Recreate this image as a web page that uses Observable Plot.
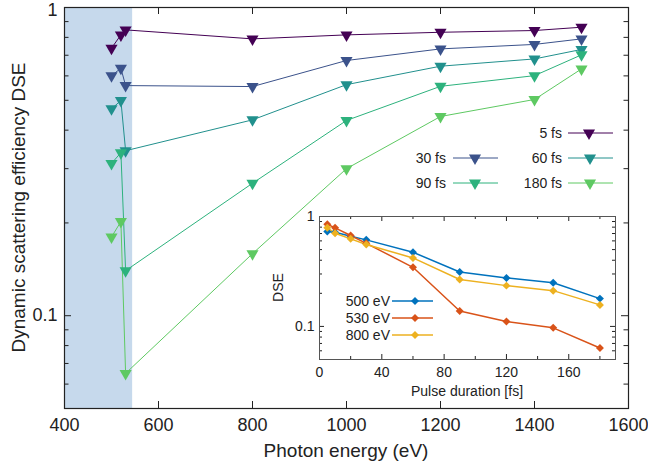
<!DOCTYPE html>
<html><head><meta charset="utf-8">
<script src="https://cdn.jsdelivr.net/npm/d3@7"></script>
<script src="https://cdn.jsdelivr.net/npm/@observablehq/plot@0.6"></script>
<style>
body{margin:0;background:#fff;}
#wrap{position:relative;width:648px;height:463px;font-family:"Liberation Sans",Arial,sans-serif;}
#inset{position:absolute;left:270px;top:205px;}
</style></head><body><div id="wrap"><div id="main"></div><div id="inset"></div></div>
<script>
// ---- Main chart data ----
const energies = [500, 520, 530, 800, 1000, 1200, 1400, 1500];
const seriesLabels = ["5 fs", "30 fs", "60 fs", "90 fs", "180 fs"];
const seriesColors = ["#440154", "#3b528b", "#21908d", "#2db27d", "#5ec962"];
const dse5   = [0.738, 0.815, 0.846, 0.791, 0.815, 0.831, 0.842, 0.863];
const dse30  = [0.601, 0.635, 0.558, 0.554, 0.673, 0.734, 0.759, 0.791];
const dse60  = [0.469, 0.499, 0.343, 0.432, 0.562, 0.645, 0.681, 0.731];
const dse90  = [0.312, 0.338, 0.140, 0.269, 0.430, 0.555, 0.601, 0.702];
const dse180 = [0.180, 0.202, 0.065, 0.159, 0.300, 0.443, 0.503, 0.632];
const shadeRange = [400, 545];
const xTicks = [400, 600, 800, 1000, 1200, 1400, 1600];
const yTicksMajor = [0.1, 1];
const yTicksMinor = [0.05, 0.06, 0.07, 0.08, 0.09, 0.2, 0.3, 0.4, 0.5, 0.6, 0.7, 0.8, 0.9];

// ---- Inset data ----
const durations = [5, 10, 20, 30, 60, 90, 120, 150, 180];
const insetLabels = ["500 eV", "530 eV", "800 eV"];
const insetColors = ["#0072bd", "#d95319", "#edb120"];
const dse500eV = [0.73, 0.72, 0.661, 0.613, 0.473, 0.313, 0.276, 0.250, 0.179];
const dse530eV = [0.85, 0.789, 0.671, 0.57, 0.345, 0.138, 0.111, 0.097, 0.0636];
const dse800eV = [0.79, 0.705, 0.626, 0.556, 0.42, 0.267, 0.235, 0.2115, 0.157];
const insetXTicksMajor = [0, 40, 80, 120, 160];
const insetXTicksMinor = [20, 60, 100, 140, 180];

// ---- Build tables ----
const mainValues = [dse5, dse30, dse60, dse90, dse180];
const mainRows = seriesLabels.flatMap((s, k) => energies.map((e, i) => ({series: s, energy: e, dse: mainValues[k][i]})));
const insetValues = [dse500eV, dse530eV, dse800eV];
const insetRows = insetLabels.flatMap((s, k) => durations.map((d, i) => ({series: s, dur: d, dse: insetValues[k][i]})));

const FONT = "Liberation Sans, Arial, Helvetica, sans-serif";
const W = 648, H = 463;
const M = {left: 64, right: 20, top: 7, bottom: 55};
const FW = W - M.left - M.right, FH = H - M.top - M.bottom;
const ink = "#222";
const fmt = d => String(d);

const main = Plot.plot({
  width: W, height: H,
  marginLeft: M.left, marginRight: M.right, marginTop: M.top, marginBottom: M.bottom,
  style: {fontFamily: FONT, fontSize: "18px", color: ink, background: "white", overflow: "visible"},
  x: {domain: [400, 1600], label: null},
  y: {type: "log", domain: [0.05, 1], label: null},
  color: {domain: seriesLabels, range: seriesColors},
  marks: [
    Plot.rect([shadeRange], {x1: d => d[0], x2: d => d[1], y1: 0.05, y2: 1, fill: "#c6d9ec"}),
    Plot.axisX(xTicks, {tickSize: 0, tickPadding: 10, tickFormat: fmt, label: null}),
    Plot.axisY([yTicksMajor[0]], {tickSize: 0, tickPadding: 7, tickFormat: fmt, label: null}),
    Plot.axisY([yTicksMajor[1]], {tickSize: 0, tickPadding: 7, tickFormat: fmt, label: null, dy: 3}),
    Plot.ruleY(yTicksMajor, {insetRight: FW - 7, stroke: ink}),
    Plot.ruleY(yTicksMajor, {insetLeft: FW - 7, stroke: ink}),
    Plot.ruleY(yTicksMinor, {insetRight: FW - 4.5, stroke: ink}),
    Plot.ruleY(yTicksMinor, {insetLeft: FW - 4.5, stroke: ink}),
    Plot.ruleX(xTicks, {insetTop: FH - 7, stroke: ink}),
    Plot.ruleX(xTicks, {insetBottom: FH - 7, stroke: ink}),
    Plot.line(mainRows, {x: "energy", y: "dse", z: "series", stroke: "series", strokeWidth: 1}),
    Plot.dot(mainRows, {x: "energy", y: "dse", fill: "series", symbol: "triangle", r: 4.5, rotate: 180}),
    Plot.frame({stroke: ink, strokeWidth: 1.2})
  ]
});
document.getElementById("main").appendChild(main);

// Main axis labels and legend
{
  const svg = d3.select(main);
  svg.append("text").attr("x", M.left + FW / 2).attr("y", 457).attr("text-anchor", "middle")
    .attr("font-size", 19).attr("font-family", FONT).attr("fill", ink).text("Photon energy (eV)");
  svg.append("text").attr("transform", `translate(25,${M.top + FH / 2}) rotate(-90)`).attr("text-anchor", "middle")
    .attr("font-size", 19).attr("font-family", FONT).attr("fill", ink).text("Dynamic scattering efficiency DSE");
  const legendPos = [
    {tx: 562, y: 133, x1: 568, x2: 613, mx: 589},
    {tx: 446, y: 158, x1: 453, x2: 498, mx: 475},
    {tx: 562, y: 158, x1: 568, x2: 613, mx: 590},
    {tx: 446, y: 183, x1: 453, x2: 498, mx: 475},
    {tx: 562, y: 183, x1: 568, x2: 613, mx: 590}
  ];
  const tri = d3.symbol(d3.symbolTriangle, Math.PI * 4.5 * 4.5)();
  seriesLabels.forEach((lab, k) => {
    const p = legendPos[k];
    const g = svg.append("g");
    g.append("text").attr("x", p.tx).attr("y", p.y + 5).attr("text-anchor", "end")
      .attr("font-size", 14).attr("font-family", FONT).attr("fill", ink).text(lab);
    g.append("line").attr("x1", p.x1).attr("x2", p.x2).attr("y1", p.y).attr("y2", p.y)
      .attr("stroke", seriesColors[k]).attr("stroke-width", 1);
    g.append("path").attr("d", tri).attr("transform", `translate(${p.mx},${p.y}) rotate(180)`)
      .attr("fill", seriesColors[k]);
  });
}

// ---- Inset ----
const IW = 360, IH = 200;
const IM = {left: 49, right: 15, top: 11, bottom: 46};
const IFW = IW - IM.left - IM.right, IFH = IH - IM.top - IM.bottom;
const inset = Plot.plot({
  width: IW, height: IH,
  marginLeft: IM.left, marginRight: IM.right, marginTop: IM.top, marginBottom: IM.bottom,
  style: {fontFamily: FONT, fontSize: "14px", color: ink, background: "transparent", overflow: "visible"},
  x: {domain: [0, 190], ticks: insetXTicksMajor, tickSize: 0, tickPadding: 8, label: null, tickFormat: fmt},
  y: {type: "log", domain: [0.05, 1], ticks: yTicksMajor, tickSize: 0, tickPadding: 5, label: null, tickFormat: fmt},
  color: {domain: insetLabels, range: insetColors},
  marks: [
    Plot.frame({fill: "white"}),
    Plot.ruleY(yTicksMajor, {insetRight: IFW - 5, stroke: ink}),
    Plot.ruleY(yTicksMajor, {insetLeft: IFW - 5, stroke: ink}),
    Plot.ruleY(yTicksMinor, {insetRight: IFW - 3, stroke: ink}),
    Plot.ruleY(yTicksMinor, {insetLeft: IFW - 3, stroke: ink}),
    Plot.ruleX(insetXTicksMajor, {insetTop: IFH - 5, stroke: ink}),
    Plot.ruleX(insetXTicksMajor, {insetBottom: IFH - 5, stroke: ink}),
    Plot.ruleX(insetXTicksMinor, {insetTop: IFH - 3, stroke: ink}),
    Plot.ruleX(insetXTicksMinor, {insetBottom: IFH - 3, stroke: ink}),
    Plot.line(insetRows, {x: "dur", y: "dse", z: "series", stroke: "series", strokeWidth: 1.5}),
    Plot.dot(insetRows, {x: "dur", y: "dse", fill: "series", symbol: "diamond2", r: 3.6}),
    Plot.frame({stroke: "#555", strokeWidth: 1})
  ]
});
document.getElementById("inset").appendChild(inset);
{
  const svg = d3.select(inset);
  svg.append("text").attr("x", IM.left + IFW / 2).attr("y", 191).attr("text-anchor", "middle")
    .attr("font-size", 14).attr("font-family", FONT).attr("fill", ink).text("Pulse duration [fs]");
  svg.append("text").attr("transform", `translate(13,${IM.top + IFH / 2}) rotate(-90)`).attr("text-anchor", "middle")
    .attr("font-size", 14).attr("font-family", FONT).attr("fill", ink).text("DSE");
  const dia = d3.symbol(d3.symbolDiamond2, Math.PI * 3.6 * 3.6)();
  const ys = [96, 113, 130];
  insetLabels.forEach((lab, k) => {
    const g = svg.append("g");
    g.append("text").attr("x", 120).attr("y", ys[k] + 5).attr("text-anchor", "end")
      .attr("font-size", 14).attr("font-family", FONT).attr("fill", ink).text(lab);
    g.append("line").attr("x1", 122).attr("x2", 163).attr("y1", ys[k]).attr("y2", ys[k])
      .attr("stroke", insetColors[k]).attr("stroke-width", 1.5);
    g.append("path").attr("d", dia).attr("transform", `translate(145,${ys[k]})`).attr("fill", insetColors[k]);
  });
}
</script></body></html>
